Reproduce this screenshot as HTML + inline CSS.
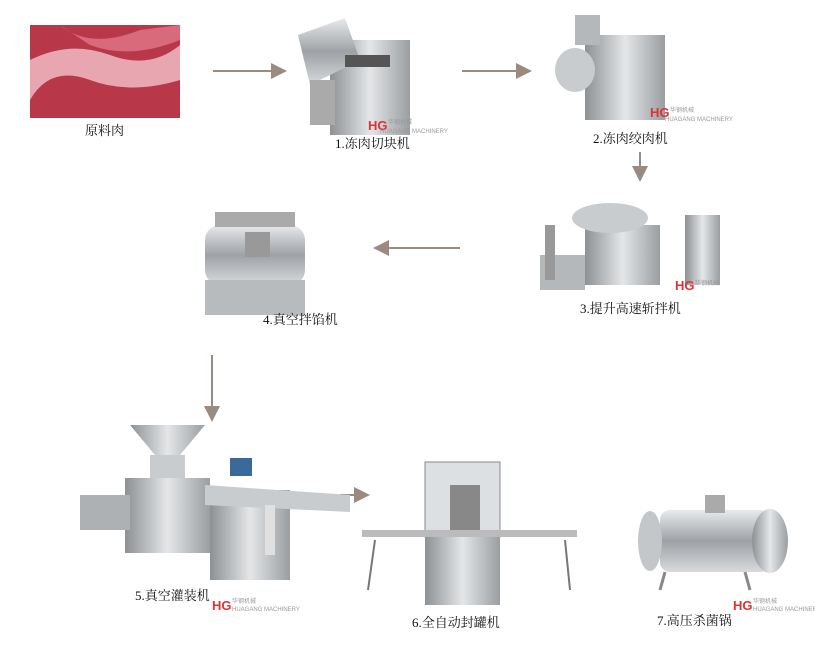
<!DOCTYPE html>
<html><head><meta charset="utf-8"><style>
html,body{margin:0;padding:0;background:#fff;width:815px;height:663px;overflow:hidden}
svg{display:block}
text{font-family:"Liberation Serif","Noto Serif CJK SC",serif;font-size:13px;fill:#111}
.wm{font-size:6px;fill:#999;font-family:"Liberation Sans",sans-serif}
.hg{font-size:13px;fill:#d33;font-family:"Liberation Sans",sans-serif;font-weight:bold}
</style></head><body>
<svg width="815" height="663" viewBox="0 0 815 663">
<defs>
<linearGradient id="st" x1="0" x2="1"><stop offset="0" stop-color="#8d9194"/><stop offset=".5" stop-color="#e4e6e8"/><stop offset="1" stop-color="#9a9ea1"/></linearGradient>
<linearGradient id="st2" x1="0" y1="0" x2="0" y2="1"><stop offset="0" stop-color="#e8eaec"/><stop offset=".5" stop-color="#9ea2a6"/><stop offset="1" stop-color="#d8dadc"/></linearGradient>
<marker id="ah" markerWidth="8" markerHeight="8" refX="7" refY="4" orient="auto"><path d="M0,0 L8,4 L0,8 z" fill="#9b8a80"/></marker>
</defs>
<!-- meat -->
<rect x="30" y="25" width="150" height="93" fill="#b8384a"/>
<path d="M30,60 Q70,40 110,55 T180,45 L180,80 Q130,95 90,80 T30,100z" fill="#e8a6b0"/>
<path d="M60,25 Q90,50 140,30 L180,25 L180,40 Q130,60 90,45z" fill="#d86a7c"/>
<text x="85" y="135">原料肉</text>
<!-- arrows -->
<g stroke="#9b8a80" stroke-width="2" fill="none" marker-end="url(#ah)">
<line x1="213" y1="71" x2="285" y2="71"/>
<line x1="462" y1="71" x2="530" y2="71"/>
<line x1="640" y1="152" x2="640" y2="180"/>
<line x1="460" y1="248" x2="375" y2="248"/>
<line x1="212" y1="355" x2="212" y2="420"/>
<line x1="340" y1="495" x2="368" y2="495"/>
</g>
<!-- machine 1 -->
<rect x="330" y="40" width="80" height="95" fill="url(#st)"/>
<polygon points="298,35 345,18 360,60 310,85" fill="url(#st2)"/>
<rect x="345" y="55" width="45" height="12" fill="#555"/>
<rect x="310" y="80" width="25" height="45" fill="#aaa"/>
<text class="hg" x="368" y="130">HG</text><text class="wm" x="388" y="124">华钢机械</text><text class="wm" x="380" y="133">HUAGANG MACHINERY</text>
<text x="335" y="148">1.冻肉切块机</text>
<!-- machine 2 -->
<rect x="585" y="35" width="80" height="85" fill="url(#st)"/>
<ellipse cx="575" cy="70" rx="20" ry="22" fill="#c9cccf"/>
<rect x="575" y="15" width="25" height="30" fill="#b5b8bb"/>
<text class="hg" x="650" y="117">HG</text><text class="wm" x="670" y="112">华钢机械</text><text class="wm" x="665" y="121">HUAGANG MACHINERY</text>
<text x="593" y="143">2.冻肉绞肉机</text>
<!-- machine 3 -->
<rect x="585" y="225" width="75" height="60" fill="url(#st)"/>
<ellipse cx="610" cy="218" rx="38" ry="15" fill="#c9cccf"/>
<rect x="540" y="255" width="45" height="35" fill="#b5b8bb"/>
<rect x="545" y="225" width="10" height="55" fill="#999"/>
<rect x="685" y="215" width="35" height="70" fill="url(#st)"/>
<text class="hg" x="675" y="290">HG</text><text class="wm" x="695" y="285">华钢机械</text>
<text x="580" y="313">3.提升高速斩拌机</text>
<!-- machine 4 -->
<rect x="205" y="225" width="100" height="60" rx="15" fill="url(#st2)"/>
<rect x="205" y="280" width="100" height="35" fill="#b8bbbe"/>
<rect x="215" y="212" width="80" height="15" fill="#aaa"/>
<rect x="245" y="232" width="25" height="25" fill="#999"/>
<text x="263" y="324">4.真空拌馅机</text>
<!-- machine 5 -->
<path d="M130,425 L205,425 L180,455 L155,455z" fill="url(#st)"/>
<rect x="150" y="455" width="35" height="25" fill="#c9cccf"/>
<rect x="125" y="478" width="85" height="75" fill="url(#st)"/>
<rect x="80" y="495" width="50" height="35" fill="#aeb1b4"/>
<rect x="210" y="490" width="80" height="90" fill="url(#st)"/>
<polygon points="205,485 350,495 350,512 205,505" fill="#c9cccf"/>
<rect x="230" y="458" width="22" height="18" fill="#3a6a9a"/>
<rect x="265" y="505" width="10" height="50" fill="#e0e0e0"/>
<text x="135" y="600">5.真空灌装机</text>
<text class="hg" x="212" y="610">HG</text><text class="wm" x="232" y="603">华钢机械</text><text class="wm" x="232" y="611">HUAGANG MACHINERY</text>
<!-- machine 6 -->
<rect x="425" y="462" width="75" height="75" fill="#dde0e2" stroke="#888"/>
<rect x="450" y="485" width="30" height="45" fill="#888"/>
<rect x="425" y="537" width="75" height="68" fill="url(#st)"/>
<rect x="362" y="530" width="215" height="7" fill="#bbb"/>
<path d="M375,540 L368,590 M565,540 L570,590" stroke="#777" stroke-width="2"/>
<text x="412" y="627">6.全自动封罐机</text>
<!-- machine 7 -->
<rect x="660" y="510" width="110" height="62" rx="10" fill="url(#st2)"/>
<ellipse cx="770" cy="541" rx="18" ry="32" fill="url(#st)"/>
<ellipse cx="650" cy="541" rx="12" ry="30" fill="#c4c7ca"/>
<path d="M665,572 L660,590 M745,572 L750,590" stroke="#888" stroke-width="3"/>
<rect x="705" y="495" width="20" height="18" fill="#aaa"/>
<text class="hg" x="733" y="610">HG</text><text class="wm" x="753" y="603">华钢机械</text><text class="wm" x="753" y="611">HUAGANG MACHINERY</text>
<text x="657" y="625">7.高压杀菌锅</text>
</svg>
</body></html>
